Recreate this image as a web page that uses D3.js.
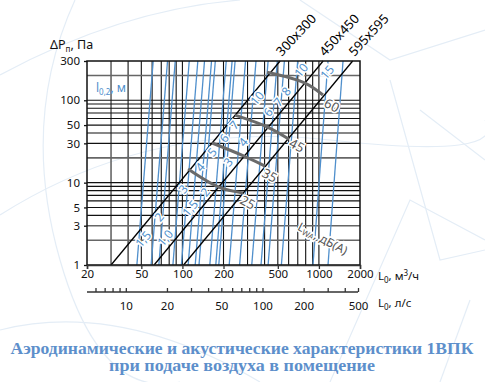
<!DOCTYPE html>
<html><head><meta charset="utf-8">
<script src="https://cdn.jsdelivr.net/npm/d3@7"></script>
<style>body{margin:0;background:#fff}svg{display:block}</style>
</head><body>
<svg id="c" width="485" height="382"></svg>
<script>
// ---------- data ----------
const xTickLabels = [20, 50, 100, 200, 500, 1000, 2000];
const yTickLabels = [1, 3, 5, 10, 30, 50, 100, 300];
const lpsTickLabels = [10, 20, 50, 100, 200, 500];
const lpsMinorTicks = [6, 7, 8, 9, 10, 20, 30, 40, 50, 60, 70, 80, 90, 100, 200, 300, 400, 500];
const gridX = [30, 40, 50, 60, 70, 80, 90, 100, 200, 300, 400, 500, 600, 700, 800, 900, 1000];
const gridY = [2, 3, 4, 5, 6, 7, 8, 9, 10, 20, 30, 40, 50, 60, 70, 80, 90, 100, 200];
const grayGridX = [30];
const grayGridY = [2, 3, 20, 200];

const ductNames = ["300x300", "450x450", "595x595"];
const ductK = [30, 62, 102];               // L0 (м³/ч) at ΔP = 1 Па

// throw lines l0,2 (м): L0 at ΔP=1 and ΔP=300
const throwLabels = ["1,5", "2", "3", "4", "5", "6", "7", "10",
                     "1,0", "1,5", "2", "3", "4", "6", "7", "8", "10", "15", ""];
const throwLBottom = [46.4, 59.0, 85.2, 110.2, 132.3, 158.8, 184.7, 262.4,
                      67.2, 98.3, 124.1, 175.6, 220.2, 322.2, 376.6, 424.4, 531, 905, 1166];
const throwLTop    = [61.1, 77.8, 112.2, 145.2, 174.2, 209.4, 243.2, 346,
                      88.6, 129.7, 163.4, 231.2, 290, 424.4, 495.7, 558.6, 699, 1166, 1502];
// label anchor (L0, ΔP)
const throwLabelL = [51.4, 67.4, 101, 134.6, 164.8, 201.7, 238.8, 352,
                     74.6, 113.7, 146.4, 215.8, 278, 423.6, 501.4, 574, 739, 1146, null];
const throwLabelP = [2.07, 3.82, 8.36, 15.5, 23.5, 34.8, 50.0, 106.3,
                     2.13, 4.92, 7.69, 17.8, 31.1, 71.9, 95.1, 129.3, 232.6, 219.9, null];

// noise level curves L_WA, дБ(А): points (L0, ΔP)
const noiseNames = ["25", "35", "45", "60"];
const noiseL = [[110, 185, 278], [165, 283, 403], [243, 424, 604], [417, 791, 1071]];
const noiseP = [[14.6, 8.8, 7.5], [30.3, 21, 15.9], [66, 47, 33.7], [219, 162, 116]];
const noiseLabelL = [302, 438, 691, 1247];
const noiseLabelP = [5.82, 12.37, 28.6, 87.4];

const titleLines = ["Аэродинамические и акустические характеристики 1ВПК", "при подаче воздуха в помещение"];

// ---------- drawing ----------
const svg = d3.select("#c");
const x = d3.scaleLog().domain([20, 2000]).range([87, 360]);
const y = d3.scaleLog().domain([1, 300]).range([265, 61]);
const xl = d3.scaleLog().domain([5.2, 500]).range([87, 358]);
const BLUE = "#4f8fcc";
const font = "'Noto Sans', 'Open Sans', sans-serif";

// faint background decoration
const deco = svg.append("g").attr("fill", "none").attr("stroke", "#e4edf6").attr("stroke-width", 1.2);
deco.append("path").attr("d", "M75,0 Q20,120 60,260 T180,382");
deco.append("path").attr("d", "M0,75 Q120,10 240,0");
deco.append("path").attr("d", "M0,215 Q150,120 330,140 T485,120");
deco.append("path").attr("d", "M300,0 L390,60 L485,30");
deco.append("path").attr("d", "M390,80 L440,260 L485,250");
deco.append("path").attr("d", "M420,110 L485,160");
deco.append("path").attr("d", "M330,382 L410,200 L485,240");
deco.append("path").attr("d", "M0,330 Q120,300 260,382");
deco.append("path").attr("d", "M440,382 L470,300");

// grid
const g = svg.append("g");
g.selectAll(".gx").data(gridX).join("line")
  .attr("x1", d => x(d)).attr("x2", d => x(d)).attr("y1", y(1)).attr("y2", y(300))
  .attr("stroke", d => grayGridX.includes(d) ? "#666" : "#111")
  .attr("stroke-width", d => grayGridX.includes(d) ? 1.6 : 1.1);
g.selectAll(".gy").data(gridY).join("line")
  .attr("y1", d => y(d)).attr("y2", d => y(d)).attr("x1", x(20)).attr("x2", x(2000))
  .attr("stroke", d => grayGridY.includes(d) ? "#666" : "#111")
  .attr("stroke-width", d => grayGridY.includes(d) ? 1.6 : 1.1);

// throw lines (blue)
svg.append("g").selectAll("line").data(throwLBottom).join("line")
  .attr("x1", d => x(d)).attr("y1", y(1))
  .attr("x2", (d, i) => x(throwLTop[i])).attr("y2", y(300))
  .attr("stroke", BLUE).attr("stroke-width", 1.3);

// duct lines ΔP = (L/K)^2
const ductLine = d3.line().x(d => x(d[0])).y(d => y(d[1]));
ductK.forEach((k, i) => {
  const pts = [[k, 1], [k * Math.sqrt(300), 300]];
  svg.append("path").attr("d", ductLine(pts)).attr("fill", "none")
    .attr("stroke", "#000").attr("stroke-width", 1.3);
  const p = [k * Math.sqrt(300) * 1.03, 300 * 1.12];
  svg.append("text").attr("transform", `translate(${x(p[0])},${y(p[1])}) rotate(-47)`)
    .attr("font-family", font).attr("font-size", 13).attr("fill", "#000")
    .text(ductNames[i]);
});

// noise curves
const curve = d3.line().x(d => x(d[0])).y(d => y(d[1])).curve(d3.curveCatmullRom);
noiseNames.forEach((n, i) => {
  const pts = noiseL[i].map((l, j) => [l, noiseP[i][j]]);
  svg.append("path").attr("d", curve(pts)).attr("fill", "none")
    .attr("stroke", "#6a6a6a").attr("stroke-width", 3);
  svg.append("text").attr("transform", `translate(${x(noiseLabelL[i])},${y(noiseLabelP[i])}) rotate(28)`)
    .attr("text-anchor", "middle").attr("dominant-baseline", "central")
    .attr("font-family", font).attr("font-size", 13).attr("fill", "#555")
    .attr("stroke", "#fff").attr("stroke-width", 3).attr("paint-order", "stroke")
    .text(n);
});

// throw labels
throwLabels.forEach((t, i) => {
  if (!t) return;
  svg.append("text").attr("transform", `translate(${x(throwLabelL[i])},${y(throwLabelP[i])}) rotate(-50)`)
    .attr("text-anchor", "middle").attr("dominant-baseline", "central")
    .attr("font-family", font).attr("font-size", 12).attr("fill", BLUE)
    .attr("stroke", "#fff").attr("stroke-width", 3).attr("paint-order", "stroke")
    .text(t);
});

// L_WA label
const lwa = svg.append("text").attr("transform", `translate(${x(1072)},${y(2.13)}) rotate(28)`)
  .attr("text-anchor", "middle").attr("dominant-baseline", "central")
  .attr("font-family", font).attr("font-size", 12).attr("fill", "#555")
  .attr("stroke", "#fff").attr("stroke-width", 3).attr("paint-order", "stroke");
lwa.append("tspan").text("L");
lwa.append("tspan").attr("font-size", 8).attr("dy", 3).text("WA");
lwa.append("tspan").attr("dy", -3).text(", дБ(А)");

// l0,2 label
const l02 = svg.append("text").attr("x", 96).attr("y", 92)
  .attr("font-family", font).attr("font-size", 12).attr("fill", BLUE);
l02.append("tspan").text("l");
l02.append("tspan").attr("font-size", 8).attr("dy", 3).text("0,2");
l02.append("tspan").attr("dy", -3).text(", м");

// border
svg.append("rect").attr("x", x(20)).attr("y", y(300))
  .attr("width", x(2000) - x(20)).attr("height", y(1) - y(300))
  .attr("fill", "none").attr("stroke", "#111").attr("stroke-width", 1.5);

// y axis
const yAxis = d3.axisLeft(y).tickValues(yTickLabels).tickFormat(d3.format("d")).tickSize(3);
const ya = svg.append("g").attr("transform", `translate(${x(20)},0)`).call(yAxis);
ya.select(".domain").remove();
ya.selectAll("text").attr("font-family", font).attr("font-size", 11.5).attr("fill", "#111").attr("dx", "-1");
ya.selectAll("line").attr("stroke", "#111").attr("stroke-width", 1.3);

// x axis m3/h
const xAxis = d3.axisBottom(x).tickValues(xTickLabels).tickFormat(d3.format("d")).tickSize(4);
const xa = svg.append("g").attr("transform", `translate(0,${y(1)})`).call(xAxis);
xa.select(".domain").attr("stroke", "#333").attr("stroke-width", 1.5);
xa.selectAll("text").attr("font-family", font).attr("font-size", 11.5).attr("fill", "#111").attr("dy", "0.55em");
xa.selectAll("line").attr("stroke", "#333").attr("stroke-width", 1.3);

// x axis l/s
const lpsAxis = d3.axisTop(xl).tickValues(lpsMinorTicks).tickFormat(d => lpsTickLabels.includes(d) ? d : "").tickSize(4);
const la = svg.append("g").attr("transform", `translate(0,292)`).call(lpsAxis);
la.select(".domain").attr("stroke", "#333").attr("stroke-width", 1.5).attr("d", `M${xl.range()[0]},0H${xl.range()[1]}`);
la.selectAll("text").attr("font-family", font).attr("font-size", 11.5).attr("fill", "#111")
  .attr("y", 10).attr("dy", "0.71em");
la.selectAll("line").attr("stroke", "#333").attr("stroke-width", 1.3);

// axis titles
function unitLabel(xp, yp, main, sub, rest, sup) {
  const t = svg.append("text").attr("x", xp).attr("y", yp)
    .attr("font-family", font).attr("font-size", 11.5).attr("fill", "#111");
  t.append("tspan").text(main);
  t.append("tspan").attr("font-size", 8).attr("dy", 3).text(sub);
  t.append("tspan").attr("dy", -3).text(rest);
  if (sup) { t.append("tspan").attr("font-size", 8).attr("dy", -4).text(sup);
             t.append("tspan").attr("dy", 4).text("/ч"); }
  return t;
}
unitLabel(378, 280, "L", "0", ", м", "3");
unitLabel(378, 307, "L", "0", ", л/с", null);
const dp = svg.append("text").attr("x", 50).attr("y", 49)
  .attr("font-family", font).attr("font-size", 12.5).attr("fill", "#111");
dp.append("tspan").text("ΔP");
dp.append("tspan").attr("font-size", 8).attr("dy", 3).text("п");
dp.append("tspan").attr("dy", -3).text(", Па");

// title
const titleWidths = [463, 266];
svg.selectAll(".title").data(titleLines).join("text")
  .attr("x", 242).attr("y", (d, i) => 354 + i * 17)
  .attr("text-anchor", "middle")
  .attr("font-family", "'Liberation Serif', 'DejaVu Serif', serif").attr("font-weight", "bold")
  .attr("font-size", 16).attr("fill", "#5d8fcb")
  .attr("textLength", (d, i) => titleWidths[i]).attr("lengthAdjust", "spacingAndGlyphs")
  .text(d => d);
</script>
</body></html>
